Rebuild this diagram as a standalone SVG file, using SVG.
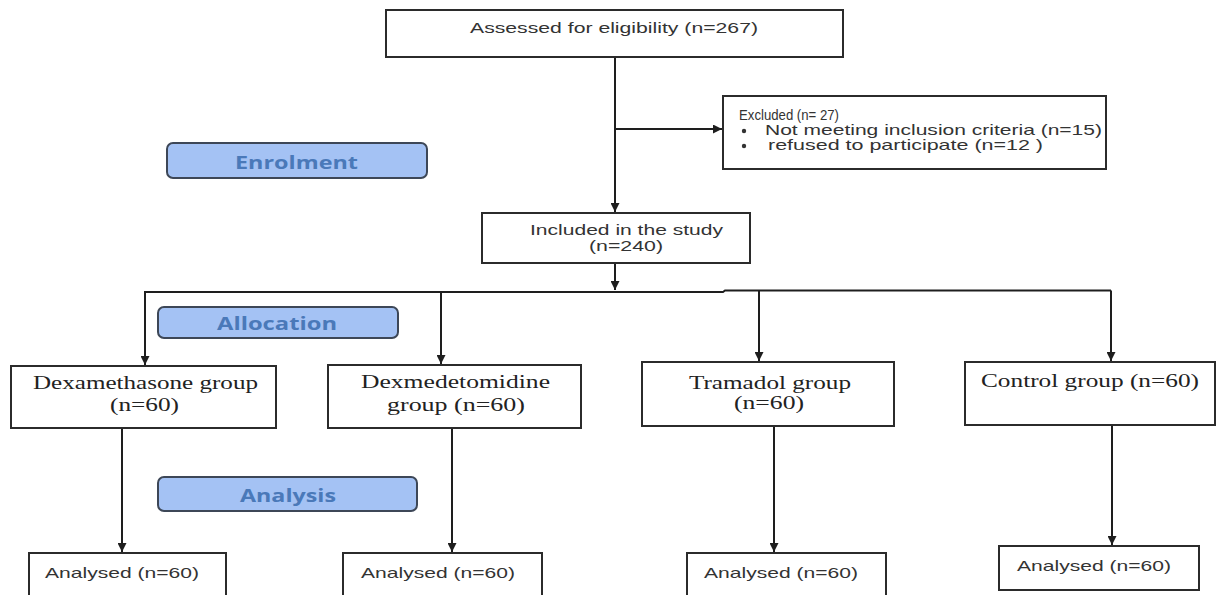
<svg xmlns="http://www.w3.org/2000/svg" width="1216" height="595" viewBox="0 0 1216 595">
<defs>
<marker id="ah" viewBox="0 0 10 10" refX="10" refY="5" markerWidth="9" markerHeight="9" markerUnits="userSpaceOnUse" orient="auto">
<path d="M0,0 L10,5 L0,10 z" fill="#1e1e1e"/>
</marker>
<style>
.box{fill:#fff;stroke:#2b2b2b;stroke-width:2}
.btn{fill:#a4c2f4;stroke:#3d4757;stroke-width:2}
.sans{font-family:"Liberation Sans",Arial,sans-serif;font-size:15px;fill:#333}
.serif{font-family:"Liberation Serif","Times New Roman",serif;font-size:19px;fill:#222}
.bt{font-family:"Open Sans","DejaVu Sans",sans-serif;font-size:17px;font-weight:bold;fill:#4a79b9}
.ln{fill:none;stroke:#1e1e1e;stroke-width:2}
</style>
</defs>
<rect width="1216" height="595" fill="#fff"/>

<g id="connectors">
<path class="ln" d="M615,57 V212" marker-end="url(#ah)"/>
<path class="ln" d="M615,129 H722" marker-end="url(#ah)"/>
<path class="ln" d="M615,263 V290" marker-end="url(#ah)"/>
<path class="ln" d="M145,292 H723 L725,290.5 H1111"/>
<path class="ln" d="M1111,290.5 V361" marker-end="url(#ah)"/>
<path class="ln" d="M145,291 V365" marker-end="url(#ah)"/>
<path class="ln" d="M441,292 V364" marker-end="url(#ah)"/>
<path class="ln" d="M759,291 V361" marker-end="url(#ah)"/>
<path class="ln" d="M122,428 V552" marker-end="url(#ah)"/>
<path class="ln" d="M452,428 V552" marker-end="url(#ah)"/>
<path class="ln" d="M774,426 V552" marker-end="url(#ah)"/>
<path class="ln" d="M1112,425 V545" marker-end="url(#ah)"/>
</g>

<g id="assessed">
<rect class="box" x="386" y="10" width="457" height="47"/>
<text class="sans" x="470" y="33" textLength="288" lengthAdjust="spacingAndGlyphs">Assessed for eligibility (n=267)</text>
</g>

<g id="excluded">
<rect class="box" x="723" y="96" width="383" height="73"/>
<text class="sans" x="739" y="120" style="font-size:14px" textLength="100" lengthAdjust="spacingAndGlyphs">Excluded (n= 27)</text>
<circle cx="744" cy="131" r="2.2" fill="#333"/>
<text class="sans" x="765" y="135" textLength="337" lengthAdjust="spacingAndGlyphs">Not meeting inclusion criteria (n=15)</text>
<circle cx="744" cy="146" r="2.2" fill="#333"/>
<text class="sans" x="768" y="150" textLength="275" lengthAdjust="spacingAndGlyphs">refused to participate (n=12  )</text>
</g>

<g id="enrolment">
<rect class="btn" x="167" y="143" width="260" height="35" rx="6"/>
<text class="bt" x="235" y="169" textLength="123" lengthAdjust="spacingAndGlyphs">Enrolment</text>
</g>

<g id="included">
<rect class="box" x="482" y="213" width="268" height="50"/>
<text class="sans" x="530" y="235" textLength="193" lengthAdjust="spacingAndGlyphs">Included in the study</text>
<text class="sans" x="589" y="251" textLength="74" lengthAdjust="spacingAndGlyphs">(n=240)</text>
</g>

<g id="allocation">
<rect class="btn" x="158" y="307" width="240" height="31" rx="6"/>
<text class="bt" x="217" y="330" textLength="120" lengthAdjust="spacingAndGlyphs">Allocation</text>
</g>

<g id="dexamethasone">
<rect class="box" x="11" y="366" width="265" height="62"/>
<text class="serif" x="33" y="389" textLength="225" lengthAdjust="spacingAndGlyphs">Dexamethasone group</text>
<text class="serif" x="110" y="411" textLength="69" lengthAdjust="spacingAndGlyphs">(n=60)</text>
</g>

<g id="dexmedetomidine">
<rect class="box" x="328" y="365" width="253" height="63"/>
<text class="serif" x="361" y="388" textLength="189" lengthAdjust="spacingAndGlyphs">Dexmedetomidine</text>
<text class="serif" x="387" y="411" textLength="138" lengthAdjust="spacingAndGlyphs">group (n=60)</text>
</g>

<g id="tramadol">
<rect class="box" x="642" y="362" width="252" height="64"/>
<text class="serif" x="689" y="389" textLength="162" lengthAdjust="spacingAndGlyphs">Tramadol group</text>
<text class="serif" x="734" y="409" textLength="70" lengthAdjust="spacingAndGlyphs">(n=60)</text>
</g>

<g id="control">
<rect class="box" x="965" y="362" width="250" height="63"/>
<text class="serif" x="981" y="387" textLength="218" lengthAdjust="spacingAndGlyphs">Control group (n=60)</text>
</g>

<g id="analysis">
<rect class="btn" x="158" y="477" width="259" height="34" rx="6"/>
<text class="bt" x="240" y="502" textLength="96" lengthAdjust="spacingAndGlyphs">Analysis</text>
</g>

<g id="analysed1">
<rect class="box" x="29" y="553" width="197" height="50"/>
<text class="sans" x="45" y="578" textLength="154" lengthAdjust="spacingAndGlyphs">Analysed (n=60)</text>
</g>
<g id="analysed2">
<rect class="box" x="343" y="553" width="199" height="50"/>
<text class="sans" x="361" y="578" textLength="154" lengthAdjust="spacingAndGlyphs">Analysed (n=60)</text>
</g>
<g id="analysed3">
<rect class="box" x="687" y="553" width="199" height="50"/>
<text class="sans" x="704" y="578" textLength="154" lengthAdjust="spacingAndGlyphs">Analysed (n=60)</text>
</g>
<g id="analysed4">
<rect class="box" x="999" y="546" width="200" height="44"/>
<text class="sans" x="1017" y="571" textLength="154" lengthAdjust="spacingAndGlyphs">Analysed (n=60)</text>
</g>
</svg>
